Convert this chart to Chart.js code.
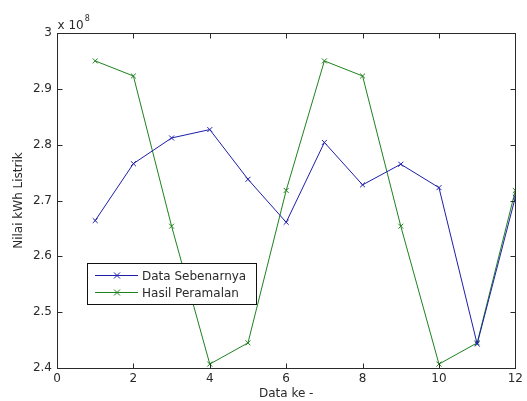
<!DOCTYPE html>
<html>
<head>
<meta charset="utf-8">
<script src="https://cdn.jsdelivr.net/npm/chart.js@4.4.0/dist/chart.umd.min.js"></script>
<style>
  body { margin: 0; background: #fff; }
  #wrap { width: 527px; height: 401px; }
</style>
</head>
<body>
<div id="wrap"><canvas id="grafikPeramalan"></canvas></div>
<script>
// data (satuan kWh)
const dataKe = [1, 2, 3, 4, 5, 6, 7, 8, 9, 10, 11, 12]
const dataSebenarnya = [2.664e8, 2.766e8, 2.812e8, 2.827e8, 2.738e8, 2.661e8, 2.804e8, 2.728e8, 2.765e8, 2.723e8, 2.443e8, 2.706e8]
const hasilPeramalan = [2.950e8, 2.923e8, 2.654e8, 2.407e8, 2.445e8, 2.718e8, 2.950e8, 2.923e8, 2.654e8, 2.407e8, 2.445e8, 2.718e8]
const xTicks = [0, 2, 4, 6, 8, 10, 12]
const yTicks = [2.4e8, 2.5e8, 2.6e8, 2.7e8, 2.8e8, 2.9e8, 3.0e8]
const eksponen = '8'

const warnaBiru = 'rgb(30, 30, 170)'
const warnaHijau = 'rgb(30, 130, 30)'
const warnaTeks = '#2a2a2a'
const fontDasar = "'DejaVu Sans', Verdana, sans-serif"

function garis(ctx, x1, y1, x2, y2) {
  ctx.beginPath()
  ctx.moveTo(x1, y1)
  ctx.lineTo(x2, y2)
  ctx.stroke()
}

// kotak sumbu ala MATLAB, tick ke dalam, eksponen dan legenda
const kotakMatlab = {
  id: 'kotakMatlab',
  afterDraw(chart) {
    const { ctx, chartArea: a, scales: { x, y } } = chart
    ctx.save()
    ctx.strokeStyle = warnaTeks
    ctx.lineWidth = 1
    const L = Math.round(a.left) + 0.5, R = Math.round(a.right) + 0.5
    const T = Math.round(a.top) + 0.5, B = Math.round(a.bottom) + 0.5
    ctx.strokeRect(L, T, R - L, B - T)
    x.ticks.forEach(t => {
      const px = Math.round(x.getPixelForValue(t.value)) + 0.5
      garis(ctx, px, B, px, B - 5)
      garis(ctx, px, T, px, T + 5)
    })
    y.ticks.forEach(t => {
      const py = Math.round(y.getPixelForValue(t.value)) + 0.5
      garis(ctx, L, py, L + 5, py)
      garis(ctx, R, py, R - 5, py)
    })

    // x 10^8
    ctx.fillStyle = warnaTeks
    ctx.textBaseline = 'alphabetic'
    ctx.textAlign = 'left'
    ctx.font = '12px ' + fontDasar
    ctx.fillText('x 10', L, T - 5)
    const w = ctx.measureText('x 10').width
    ctx.font = '8px ' + fontDasar
    ctx.fillText(eksponen, L + w + 1, T - 13)

    // legenda
    const lx = 87, ly = 263, lw = 169, lh = 41
    ctx.fillStyle = '#fff'
    ctx.fillRect(lx, ly, lw, lh)
    ctx.strokeStyle = '#111'
    ctx.strokeRect(lx + 0.5, ly + 0.5, lw, lh)
    ctx.font = '12px ' + fontDasar
    ctx.textBaseline = 'middle'
    chart.data.datasets.forEach((ds, i) => {
      const cy = ly + 12.5 + i * 17
      ctx.strokeStyle = ds.borderColor
      garis(ctx, lx + 8, cy, lx + 51, cy)
      const m = 3
      const cx = lx + 30
      garis(ctx, cx - m, cy - m, cx + m, cy + m)
      garis(ctx, cx - m, cy + m, cx + m, cy - m)
      ctx.fillStyle = warnaTeks
      ctx.fillText(ds.label, lx + 55, cy + 1)
    })
    ctx.restore()
  }
}

const ctx = document.getElementById('grafikPeramalan').getContext('2d')
const chartPeramalan = new Chart(ctx, {
  type: 'line',
  data: {
    labels: dataKe,
    datasets: [{
      label: 'Data Sebenarnya',
      data: dataKe.map((k, i) => ({ x: k, y: dataSebenarnya[i] })),
      borderColor: warnaBiru,
      backgroundColor: warnaBiru,
      borderWidth: 1,
      pointStyle: 'crossRot',
      pointRadius: 3.5,
      pointBorderWidth: 1,
      tension: 0
    }, {
      label: 'Hasil Peramalan',
      data: dataKe.map((k, i) => ({ x: k, y: hasilPeramalan[i] })),
      borderColor: warnaHijau,
      backgroundColor: warnaHijau,
      borderWidth: 1,
      pointStyle: 'crossRot',
      pointRadius: 3.5,
      pointBorderWidth: 1,
      tension: 0
    }]
  },
  options: {
    responsive: true,
    maintainAspectRatio: false,
    animation: false,
    layout: { padding: { top: 33, right: 7, left: 0, bottom: 0 } },
    plugins: {
      legend: { display: false },
      tooltip: { enabled: false }
    },
    scales: {
      x: {
        type: 'linear',
        min: 0,
        max: 12,
        afterBuildTicks: s => { s.ticks = xTicks.map(v => ({ value: v })) },
        afterFit: s => { s.height = 33 },
        grid: { display: false, drawTicks: false },
        border: { display: false },
        ticks: {
          color: warnaTeks,
          font: { family: fontDasar, size: 12 },
          padding: 4,
          maxRotation: 0
        },
        title: {
          display: true,
          text: 'Data ke -',
          color: warnaTeks,
          font: { family: fontDasar, size: 12 },
          padding: { top: 0, bottom: 0 }
        }
      },
      y: {
        min: 2.4e8,
        max: 3.0e8,
        afterBuildTicks: s => { s.ticks = yTicks.map(v => ({ value: v })) },
        afterFit: s => { s.width = 57 },
        grid: { display: false, drawTicks: false },
        border: { display: false },
        ticks: {
          color: warnaTeks,
          font: { family: fontDasar, size: 12 },
          padding: 5,
          callback: v => String(Math.round(v / 1e7) / 10)
        },
        title: {
          display: true,
          text: 'Nilai kWh Listrik',
          color: warnaTeks,
          font: { family: fontDasar, size: 12 },
          padding: { top: 12, bottom: 0 }
        }
      }
    }
  },
  plugins: [kotakMatlab]
})
</script>
</body>
</html>
